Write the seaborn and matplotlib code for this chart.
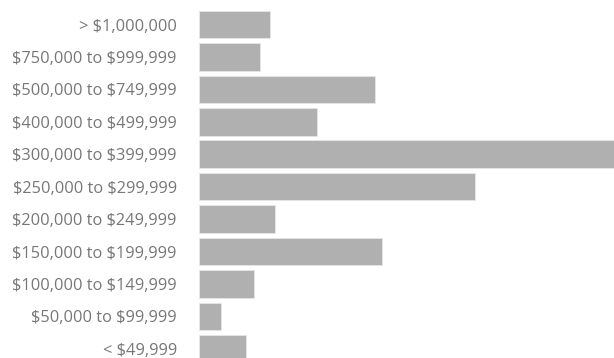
import matplotlib
matplotlib.use("Agg")
import matplotlib.pyplot as plt
import seaborn as sns
import pandas as pd

# Home sale price brackets and the number of sales in each
price_ranges = [
    "> $1,000,000",
    "$750,000 to $999,999",
    "$500,000 to $749,999",
    "$400,000 to $499,999",
    "$300,000 to $399,999",
    "$250,000 to $299,999",
    "$200,000 to $249,999",
    "$150,000 to $199,999",
    "$100,000 to $149,999",
    "$50,000 to $99,999",
    "< $49,999",
]
sales = [71, 61, 176, 118, 415, 276, 76, 183, 55, 22, 47]

df = pd.DataFrame({"range": price_ranges, "sales": sales})

sns.set_theme(style="white")
plt.rcParams["font.family"] = ["Open Sans", "DejaVu Sans"]
plt.rcParams["text.parse_math"] = False  # dollar signs are literal

fig = plt.figure(figsize=(6.14, 3.58), dpi=100)
ax = fig.add_axes([199 / 614, -7 / 358, 415 / 614, 356.7 / 358])

sns.barplot(data=df, y="range", x="sales", orient="h", color="#b0b0b0",
            saturation=1, width=0.85, edgecolor="#e6e6e6", linewidth=0.6, ax=ax)

ax.set_xlim(0, 415)
ax.set_ylim(10.5, -0.5)
ax.set_xlabel("")
ax.set_ylabel("")
ax.set_xticks([])
ax.tick_params(axis="y", length=0, pad=16, labelsize=11.8, labelcolor="#777777")
sns.despine(ax=ax, left=True, bottom=True)

fig.savefig("out.png", dpi=100)
